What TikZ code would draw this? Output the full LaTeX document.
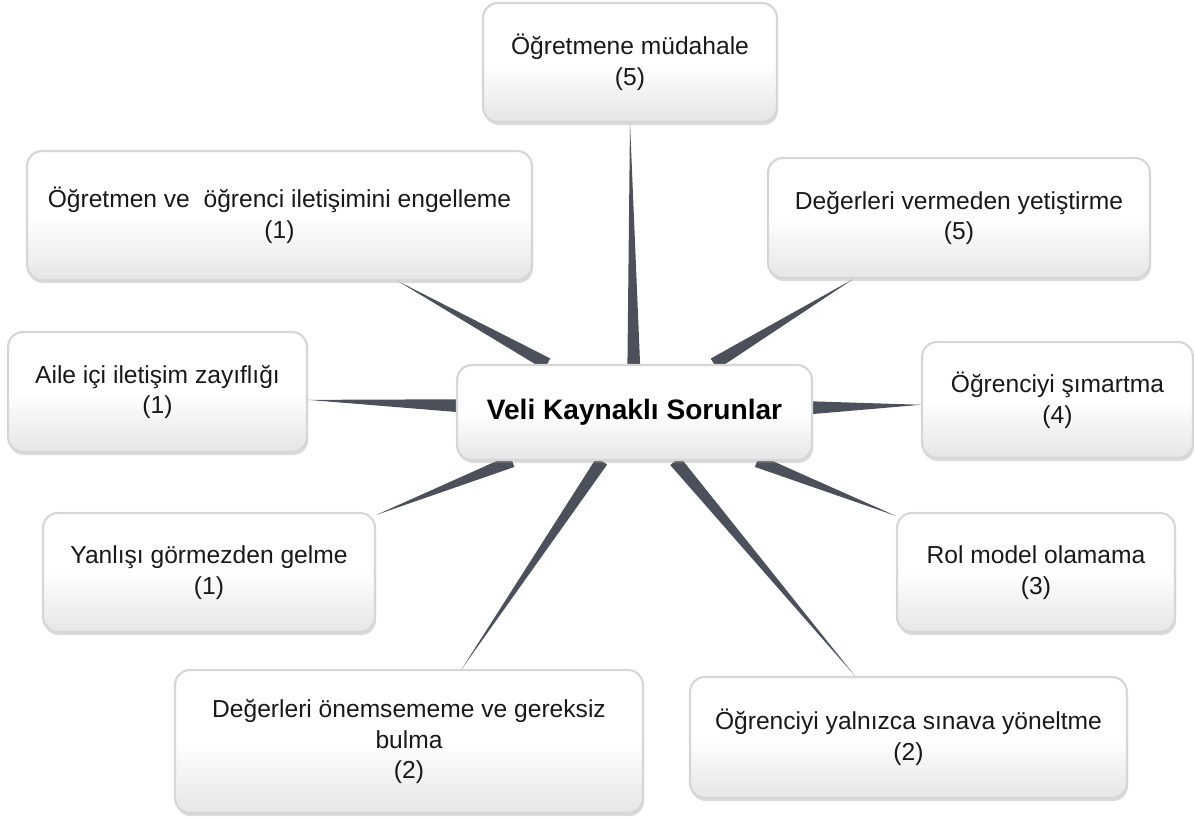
\documentclass[tikz,border=0pt]{standalone}
\usepackage{fontspec}
\setmainfont{Liberation Sans}
\usetikzlibrary{calc,shadows,backgrounds}

\definecolor{spokegray}{HTML}{4B505B}
\definecolor{boxline}{HTML}{D6D6D6}

\tikzset{
  topic/.style={draw=boxline, line width=1.2pt, rounded corners=0.3cm,
    top color=white, bottom color=black!10, middle color=white,
    drop shadow={shadow xshift=0.6pt, shadow yshift=-1.8pt, opacity=0.35, fill=black!40},
    align=center, font=\fontsize{14}{17.5}\selectfont, text=black!90},
  hub/.style={topic, font=\fontsize{16}{19}\selectfont\bfseries, text=black},
  spoke/.style={fill=spokegray}
}

% tapered spoke from the hub border to a point on a topic box
\newcommand{\drawspoke}[2]{%
  \path (#1) -- (#2) coordinate[pos=0] (sA) coordinate[pos=1] (sB);
  \fill[spoke] ($(sA)!3.6pt!90:(sB)$) -- (sB) -- ($(sA)!3.6pt!-90:(sB)$) -- cycle;}

\begin{document}
\begin{tikzpicture}[x=0.02cm,y=-0.02cm]
\useasboundingbox (0,0) rectangle (1194,820);

%central topic
\node[hub, minimum width=7.1cm, minimum height=1.9cm] (veli) at (634.5,412.5) {Veli Kaynaklı Sorunlar};

%problems around it
\node[topic, minimum width=5.88cm, minimum height=2.38cm] (mudahale) at (630,62.5) {Öğretmene müdahale\\(5)};
\node[topic, minimum width=10.1cm, minimum height=2.58cm] (engelleme) at (279.5,215.5) {Öğretmen ve~ öğrenci iletişimini engelleme\\(1)};
\node[topic, minimum width=7.64cm, minimum height=2.4cm] (vermeden) at (959,218) {Değerleri vermeden yetiştirme\\(5)};
\node[topic, minimum width=5.98cm, minimum height=2.4cm] (aile) at (157.5,392) {Aile içi iletişim zayıflığı\\(1)};
\node[topic, minimum width=5.42cm, minimum height=2.32cm] (simartma) at (1057.5,400) {Öğrenciyi şımartma\\(4)};
\node[topic, minimum width=6.64cm, minimum height=2.38cm] (yanlis) at (209,572.5) {Yanlışı görmezden gelme\\(1)};
\node[topic, minimum width=5.56cm, minimum height=2.38cm] (rolmodel) at (1036,572.5) {Rol model olamama\\(3)};
\node[topic, minimum width=9.36cm, minimum height=2.86cm] (onemseme) at (409,741.5) {Değerleri önemsememe ve gereksiz\\bulma\\(2)};
\node[topic, minimum width=8.74cm, minimum height=2.42cm] (sinav) at (908.5,737.5) {Öğrenciyi yalnızca sınava yöneltme\\(2)};

%spokes behind the boxes
\begin{scope}[on background layer]
\foreach \tip in {mudahale.south, engelleme.-29, vermeden.210, aile.-3, simartma.182,
                  yanlis.19, rolmodel.158, onemseme.54, sinav.131}
  \drawspoke{veli}{\tip};
\end{scope}

\end{tikzpicture}
\end{document}
